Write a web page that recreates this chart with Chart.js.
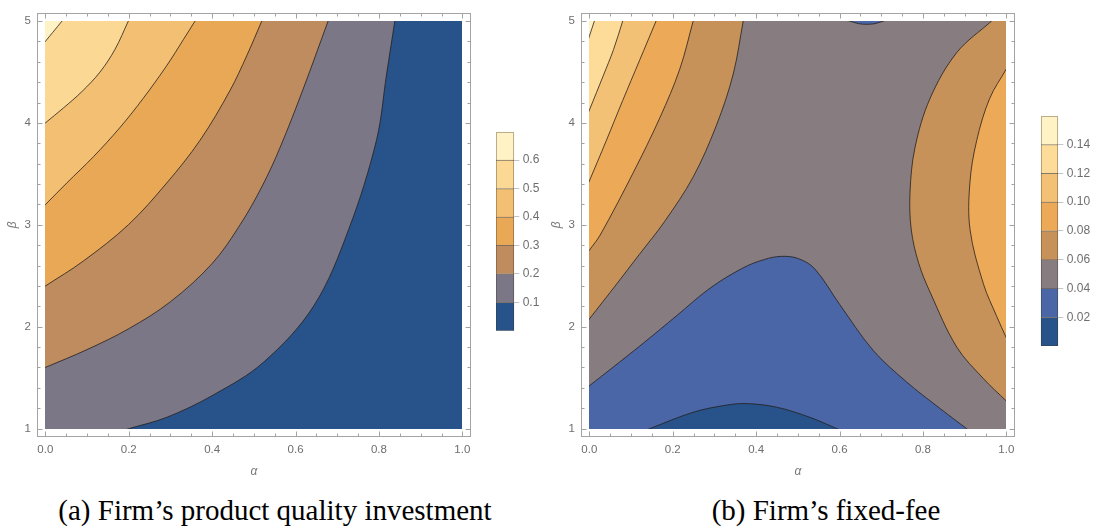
<!DOCTYPE html>
<html>
<head>
<meta charset="utf-8">
<script src="https://cdn.jsdelivr.net/npm/chart.js@4.4.1/dist/chart.umd.min.js"></script>
<style>
  html, body { margin: 0; padding: 0; background: #fff; }
  body { position: relative; width: 1095px; height: 529px; overflow: hidden; }
  canvas { position: absolute; }
  .caption {
    position: absolute; top: 493px;
    font-family: "Liberation Serif", "Times New Roman", serif;
    font-size: 29px; line-height: 34px; color: #000; white-space: nowrap;
    transform: translateX(-50%);
  }
</style>
</head>
<body>
<canvas id="qualityPlot" width="480" height="480" style="left:0;top:0"></canvas>
<canvas id="qualityKey" width="75" height="230" style="left:490px;top:120px"></canvas>
<canvas id="feePlot" width="480" height="480" style="left:544px;top:0"></canvas>
<canvas id="feeKey" width="61" height="270" style="left:1034px;top:100px"></canvas>
<div class="caption" style="left:275px">(a) Firm’s product quality investment</div>
<div class="caption" style="left:826px">(b) Firm’s fixed-fee</div>

<script>
// ---- axes ----
const alphaTicks = [0, 0.2, 0.4, 0.6, 0.8, 1.0];
const betaTicks = [1, 2, 3, 4, 5];

// ---- (a) product quality investment: contour levels and level curves [alpha, beta] ----
const qualityLevels = [0.1, 0.2, 0.3, 0.4, 0.5, 0.6];
const qualityBandColors = ['#27538a', '#7b7787', '#be8c5f', '#e8a855', '#f2bf73', '#fbd995', '#fff2c5'];
const quality01 = [[0.2015, 1], [0.291, 1.11], [0.403, 1.33], [0.523, 1.65], [0.643, 2.20], [0.727, 2.95], [0.794, 3.83], [0.818, 4.47], [0.838, 5]];
const quality02 = [[0, 1.60], [0.1, 1.775], [0.2, 1.98], [0.3, 2.245], [0.4, 2.62], [0.467, 3.0], [0.52, 3.38], [0.563, 3.76], [0.618, 4.33], [0.678, 5]];
const quality03 = [[0, 2.399], [0.091, 2.644], [0.199, 3.0], [0.291, 3.41], [0.371, 3.83], [0.443, 4.32], [0.483, 4.66], [0.519, 5]];
const quality04 = [[0, 3.197], [0.0515, 3.411], [0.115, 3.667], [0.179, 3.955], [0.235, 4.243], [0.291, 4.562], [0.331, 4.818], [0.359, 5]];
const quality05 = [[0, 4.0], [0.0434, 4.147], [0.0875, 4.307], [0.131, 4.499], [0.167, 4.722], [0.199, 5]];
const quality06 = [[0, 4.80], [0.018, 4.89], [0.04, 5]];

// ---- (b) fixed-fee: contour levels and level curves [alpha, beta] ----
const feeLevels = [0.02, 0.04, 0.06, 0.08, 0.10, 0.12, 0.14];
const feeBandColors = ['#27538a', '#4a66a6', '#877c80', '#c6925a', '#eca958', '#f3c176', '#fddb98', '#fff2c5'];
const fee02 = [[0.1455, 1], [0.249, 1.16], [0.329, 1.23], [0.377, 1.245], [0.449, 1.21], [0.529, 1.11], [0.593, 1]];
const fee04 = [[0, 1.42], [0.05, 1.58], [0.13, 1.84], [0.21, 2.11], [0.29, 2.38], [0.37, 2.58], [0.42, 2.66], [0.46, 2.69], [0.50, 2.67], [0.54, 2.57], [0.60, 2.22], [0.68, 1.77], [0.76, 1.46], [0.84, 1.20], [0.9045, 1.0]];
const fee04Top = [[0.625, 5], [0.645, 4.975], [0.665, 4.968], [0.685, 4.975], [0.705, 5]];
const fee06Left = [[0, 2.076], [0.06, 2.39], [0.12, 2.71], [0.18, 3.03], [0.249, 3.47], [0.305, 3.98], [0.345, 4.48], [0.369, 5]];
const fee06Right = [[0.9645, 5], [0.881, 4.69], [0.817, 4.24], [0.781, 3.76], [0.769, 3.32], [0.772, 2.95], [0.790, 2.62], [0.818, 2.33], [0.881, 1.80], [0.945, 1.49], [1, 1.27]];
const fee08Left = [[0, 2.75], [0.026, 2.90], [0.105, 3.51], [0.169, 4.05], [0.217, 4.53], [0.249, 5]];
const fee08Right = [[1, 4.53], [0.960, 4.24], [0.929, 3.83], [0.9125, 3.41], [0.913, 2.95], [0.945, 2.42], [0.977, 2.10], [1, 1.89]];
const fee10 = [[0, 3.43], [0.04, 3.82], [0.08, 4.22], [0.12, 4.61], [0.16, 5]];
const fee12 = [[0, 4.125], [0.034, 4.47], [0.058, 4.72], [0.08, 5]];
const fee14 = [[0, 4.85], [0.012, 5]];

// ---- styling ----
const LINE_COLOR = 'rgba(35,30,25,0.78)';
const FRAME_COLOR = '#a3a3a3';
const LABEL_COLOR = '#6e6e6e';
const SANS = '"Liberation Sans", Arial, sans-serif';
const TENSION = 0.35;
// approximate pixels per unit of alpha / beta, used only to size the short
// off-domain stubs that let the spline leave the domain along the curve direction
const PX_ALPHA = 417, PX_BETA = 104;

const toPoints = arr => arr.map(([x, y]) => ({x, y}));

function stub(p, q) {
  const dx = (p[0] - q[0]) * PX_ALPHA, dy = (p[1] - q[1]) * PX_BETA;
  const len = Math.hypot(dx, dy) || 1;
  return [p[0] + dx / len * 6 / PX_ALPHA, p[1] + dy / len * 6 / PX_BETA];
}
function withStubs(curve) {
  const n = curve.length;
  return [stub(curve[0], curve[1])].concat(curve, [stub(curve[n - 1], curve[n - 2])]);
}

// Filled region: a level curve closed through points outside the domain.
function region(curve, outside, color) {
  return {
    data: toPoints(withStubs(curve).concat(outside)),
    fill: 'shape', backgroundColor: color,
    borderColor: 'rgba(0,0,0,0)', borderWidth: 1,
    pointRadius: 0, tension: TENSION
  };
}
// Contour line drawn on top of its region (same spline as the region edge).
function contour(curve) {
  return {
    data: toPoints(withStubs(curve)), fill: false,
    borderColor: LINE_COLOR, borderWidth: 1,
    pointRadius: 0, tension: TENSION
  };
}
function background(color) {
  return {
    data: toPoints([[-0.1, 0.7], [-0.1, 5.3], [1.1, 5.3], [1.1, 0.7]]),
    fill: 'shape', backgroundColor: color,
    borderColor: 'rgba(0,0,0,0)', borderWidth: 1, pointRadius: 0, tension: 0
  };
}
// Painter's order: the first entry ends up at the bottom.
function stack(list) {
  const n = list.length;
  return list.map((d, i) => Object.assign(d, {order: n - i}));
}

// Clip the filled bands and contour lines to the domain [0,1] x [1,5].
const domainClip = {
  id: 'domainClip',
  beforeDatasetsDraw(chart) {
    const {ctx, scales: {x, y}} = chart;
    const l = Math.round(x.getPixelForValue(0)), r = Math.round(x.getPixelForValue(1));
    const t = Math.round(y.getPixelForValue(5)), b = Math.round(y.getPixelForValue(1));
    ctx.save();
    ctx.beginPath();
    ctx.rect(l, t, r - l, b - t);
    ctx.clip();
  },
  afterDatasetsDraw(chart) { chart.ctx.restore(); }
};

// Frame with inward major and minor ticks on all four sides.
const frameTicks = {
  id: 'frameTicks',
  afterDraw(chart) {
    const {ctx, chartArea: a, scales: {x, y}} = chart;
    const L = Math.round(a.left) + 0.5, R = Math.round(a.right) - 0.5;
    const T = Math.round(a.top) + 0.5, B = Math.round(a.bottom) - 0.5;
    ctx.save();
    ctx.strokeStyle = FRAME_COLOR;
    ctx.lineWidth = 1;
    ctx.strokeRect(L, T, R - L, B - T);
    ctx.beginPath();
    for (let i = 0; i <= 20; i++) {
      const len = (i % 4 === 0) ? 5 : 3;
      const px = Math.round(x.getPixelForValue(i * 0.05)) + 0.5;
      ctx.moveTo(px, B); ctx.lineTo(px, B - len);
      ctx.moveTo(px, T); ctx.lineTo(px, T + len);
    }
    for (let i = 0; i <= 20; i++) {
      const len = (i % 5 === 0) ? 5 : 3;
      const py = Math.round(y.getPixelForValue(1 + i * 0.2)) + 0.5;
      ctx.moveTo(L, py); ctx.lineTo(L + len, py);
      ctx.moveTo(R, py); ctx.lineTo(R - len, py);
    }
    ctx.stroke();
    ctx.restore();
  }
};

function contourPlot(id, datasets) {
  return new Chart(document.getElementById(id), {
    type: 'line',
    data: {datasets},
    options: {
      responsive: false, animation: false, events: [],
      layout: {padding: {top: 3, right: 9.3, left: 0, bottom: 0}},
      plugins: {legend: {display: false}, tooltip: {enabled: false}},
      scales: {
        x: {
          type: 'linear', min: -0.02, max: 1.02,
          afterBuildTicks: s => { s.ticks = alphaTicks.map(v => ({value: v})); },
          afterFit: s => { s.height = 43.3; },
          grid: {display: false, drawTicks: false}, border: {display: false},
          ticks: {padding: 6, color: LABEL_COLOR, font: {family: SANS, size: 11.5},
                  callback: v => Number(v).toFixed(1), maxRotation: 0, autoSkip: false},
          title: {display: true, text: 'α', color: '#777',
                  font: {family: SANS, size: 12, style: 'italic'}, padding: {top: 0, bottom: 1}}
        },
        y: {
          type: 'linear', min: 0.92, max: 5.08,
          afterBuildTicks: s => { s.ticks = betaTicks.map(v => ({value: v})); },
          afterFit: s => { s.width = 37; },
          grid: {display: false, drawTicks: false}, border: {display: false},
          ticks: {padding: 6, color: LABEL_COLOR, font: {family: SANS, size: 11.5},
                  callback: v => String(v), autoSkip: false},
          title: {display: true, text: 'β', color: '#777',
                  font: {family: SANS, size: 12, style: 'italic'}, padding: {top: 5, bottom: 0}}
        }
      }
    },
    plugins: [domainClip, frameTicks]
  });
}

const keyOutline = {
  id: 'keyOutline',
  afterDatasetsDraw(chart) {
    const {ctx, chartArea: a} = chart;
    ctx.save();
    ctx.strokeStyle = 'rgba(60,50,40,0.35)';
    ctx.lineWidth = 1;
    ctx.strokeRect(Math.round(a.left) + 0.5, Math.round(a.top) + 0.5,
                   Math.round(a.right) - Math.round(a.left) - 1, Math.round(a.bottom) - Math.round(a.top) - 1);
    ctx.restore();
  }
};

function colorKey(id, levels, colors, padLeft, padTop, padBottom, boxWidth, canvasWidth, digits) {
  const step = levels[1] - levels[0];
  const edges = [0].concat(levels, [levels[levels.length - 1] + step]);
  const datasets = colors.map((c, i) => ({
    data: [[edges[i], edges[i + 1]]],
    backgroundColor: c, borderColor: 'rgba(45,35,25,0.6)',
    borderWidth: {top: i < colors.length - 1 ? 1 : 0, right: 0, bottom: 0, left: 0},
    borderSkipped: false, grouped: false,
    barPercentage: 1, categoryPercentage: 1
  }));
  return new Chart(document.getElementById(id), {
    type: 'bar',
    data: {labels: [''], datasets},
    options: {
      responsive: false, animation: false, events: [],
      layout: {padding: {left: padLeft, top: padTop, bottom: padBottom, right: 0}},
      plugins: {legend: {display: false}, tooltip: {enabled: false}},
      scales: {
        x: {display: false},
        y: {
          position: 'right', min: 0, max: edges[edges.length - 1],
          afterBuildTicks: s => { s.ticks = levels.map(v => ({value: v})); },
          afterFit: s => { s.width = canvasWidth - padLeft - boxWidth; },
          grid: {drawOnChartArea: false, drawTicks: true, tickLength: 5, color: '#c4c4c4'},
          border: {display: false},
          ticks: {padding: 3.4, color: LABEL_COLOR, font: {family: SANS, size: 12},
                  callback: v => Number(v).toFixed(digits), autoSkip: false}
        }
      }
    },
    plugins: [keyOutline]
  });
}

// ---- (a) ----
const belowRightOfLeftEdge = [[1.1, 5.3], [1.1, 0.7], [-0.1, 0.7]];
contourPlot('qualityPlot', stack([
  background(qualityBandColors[6]),
  region(quality06, belowRightOfLeftEdge, qualityBandColors[5]), contour(quality06),
  region(quality05, belowRightOfLeftEdge, qualityBandColors[4]), contour(quality05),
  region(quality04, belowRightOfLeftEdge, qualityBandColors[3]), contour(quality04),
  region(quality03, belowRightOfLeftEdge, qualityBandColors[2]), contour(quality03),
  region(quality02, belowRightOfLeftEdge, qualityBandColors[1]), contour(quality02),
  region(quality01, [[1.1, 5.3], [1.1, 0.7]], qualityBandColors[0]), contour(quality01)
]));
colorKey('qualityKey', qualityLevels, qualityBandColors, 6, 11.7, 19.3, 18.3, 75, 1);

// ---- (b) ----
const upperLeft = [[-0.1, 5.3]];
contourPlot('feePlot', stack([
  background(feeBandColors[2]),
  region(fee04, [[-0.1, 0.7]], feeBandColors[1]), contour(fee04),
  region(fee02, [], feeBandColors[0]), contour(fee02),
  region(fee04Top, [], feeBandColors[1]), contour(fee04Top),
  region(fee06Left, upperLeft, feeBandColors[3]), contour(fee06Left),
  region(fee08Left, upperLeft, feeBandColors[4]), contour(fee08Left),
  region(fee10, upperLeft, feeBandColors[5]), contour(fee10),
  region(fee12, upperLeft, feeBandColors[6]), contour(fee12),
  region(fee14, upperLeft, feeBandColors[7]), contour(fee14),
  region(fee06Right, [[1.1, 5.3]], feeBandColors[3]), contour(fee06Right),
  region(fee08Right, [], feeBandColors[4]), contour(fee08Right)
]));
colorKey('feeKey', feeLevels, feeBandColors, 6.7, 15.7, 24, 17.6, 61, 2);
</script>
</body>
</html>
